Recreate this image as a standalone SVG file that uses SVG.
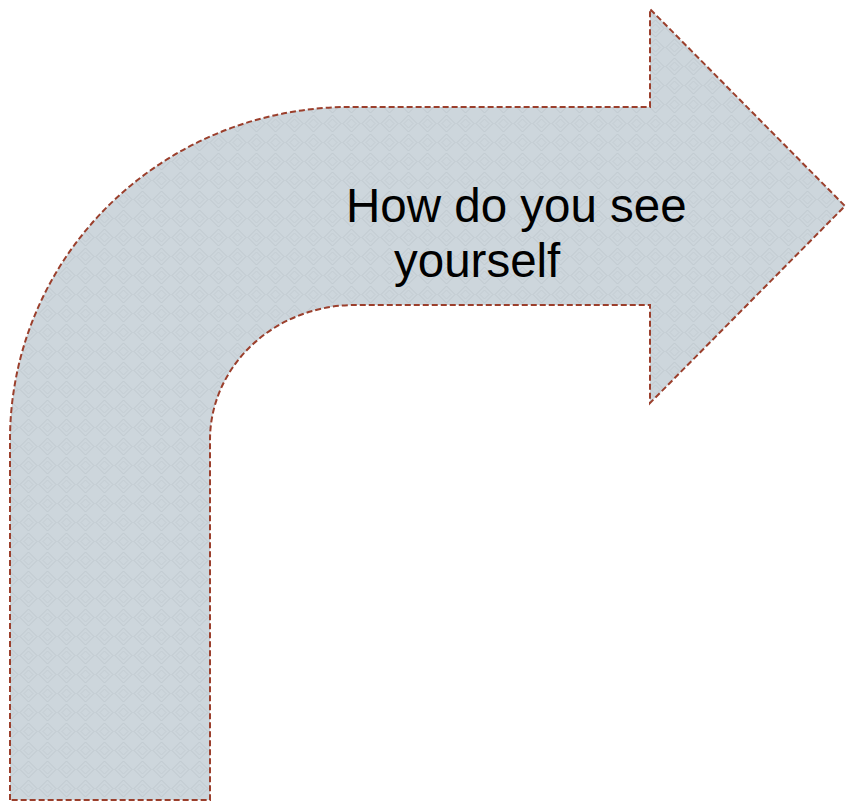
<svg xmlns="http://www.w3.org/2000/svg" width="847" height="802" viewBox="0 0 847 802">
  <defs>
    <pattern id="tex" width="19" height="19" patternUnits="userSpaceOnUse">
      <rect width="19" height="19" fill="#cdd6dc"/>
      <path d="M9.5 1 L18 9.5 L9.5 18 L1 9.5 Z" fill="none" stroke="#bfc9cf" stroke-width="1"/>
      <path d="M9.5 5 L14 9.5 L9.5 14 L5 9.5 Z" fill="none" stroke="#c4cdd3" stroke-width="1"/>
    </pattern>
  </defs>
  <style>
    .arrow { fill: url(#tex); stroke: #9b3f2c; stroke-width: 2; stroke-dasharray: 6 3; }
    .lbl { font-family: "Liberation Sans", Arial, sans-serif; font-size: 47.5px; fill: #000; }
  </style>
  <g id="bent-arrow">
    <path class="arrow" d="M10 800 L10 440 A340 333 0 0 1 350 107 L650 107 L650 9 L845 206 L650 403 L650 305 L355 305 A145 135 0 0 0 210 440 L210 800 Z"/>
    <text class="lbl" x="346" y="222">How do you see</text>
    <text class="lbl" x="394" y="277">yourself</text>
  </g>
  <g id="connectors"/>
</svg>
